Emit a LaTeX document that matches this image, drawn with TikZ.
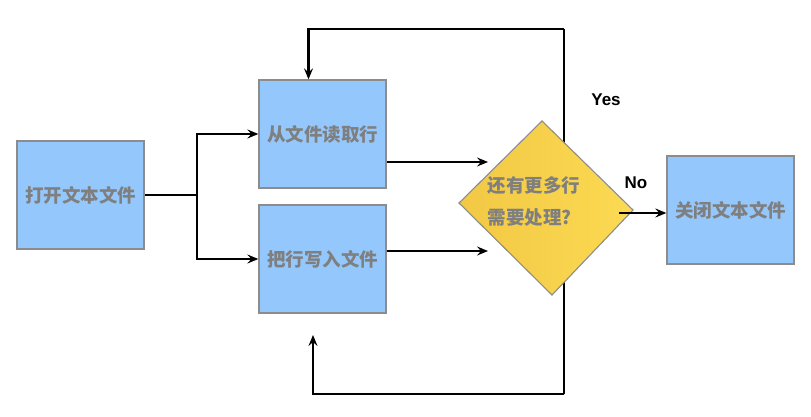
\documentclass[tikz,border=0pt]{standalone}
\usepackage{fontspec}
\setmainfont{Liberation Sans}
\newfontfamily\cjk{Noto Sans CJK SC}
\usetikzlibrary{arrows.meta,calc}
\definecolor{boxblue}{HTML}{94C8FC}
\definecolor{boxline}{HTML}{8C8C8C}
\definecolor{txtgray}{HTML}{7F7F7F}
\definecolor{yelA}{HTML}{F2C845}
\definecolor{yelB}{HTML}{FCDA52}
\tikzset{
  boxnode/.style={draw=boxline, line width=1.3pt, fill=boxblue, minimum width=127pt, minimum height=108pt, inner sep=0pt,
    font=\cjk\bfseries\fontsize{18.5}{22}\selectfont, text=txtgray},
  conn/.style={line width=2.7pt, -{Stealth[length=11pt,width=9pt,inset=4pt]}},
  plain/.style={line width=2.7pt},
  lbl/.style={font=\bfseries\fontsize{17}{20}\selectfont, text=black},
}
\begin{document}
\begin{tikzpicture}[x=1pt,y=-1pt]
\useasboundingbox (0,0) rectangle (811,417);
% loop line behind the diamond
\coordinate (ytop) at (564,29);
\coordinate (ybot) at (564,394);
\draw[plain] (ytop) -- (ybot);
% boxes
\node[boxnode] (open) at (80.5,195) {打开文本文件};
\node[boxnode] (read) at (322.5,134) {从文件读取行};
\node[boxnode] (write) at (322.5,259) {把行写入文件};
\node[boxnode] (close) at (730.5,210) {关闭文本文件};
% diamond
\coordinate (dt) at (542,121);
\coordinate (dr) at (633,210);
\coordinate (db) at (552,295);
\coordinate (dl) at (459,203);
\shade[left color=yelA, right color=yelB, draw=boxline, line width=1.1pt] (dt) -- (dr) -- (db) -- (dl) -- cycle;
\node[font=\cjk\bfseries\fontsize{18.5}{32}\selectfont, text=txtgray, align=left, anchor=west] (dtext) at (484,201) {还有更多行\\需要处理?};
% connectors
\coordinate (jn) at (197,195);
\draw[plain] (open.east) -- (jn);
\draw[conn] (jn) |- (read.west);
\draw[conn] (jn) |- (write.west);
\coordinate (d1) at (488,162);
\coordinate (d2) at (488,251);
\draw[conn] (read.east |- d1) -- (d1);
\draw[conn] (write.east |- d2) -- (d2);
\draw[conn] (ytop) -| ([xshift=-14pt]read.north);
\coordinate (wb) at (313,335);
\draw[conn] (ybot) -| (wb);
\coordinate (nost) at (619,213);
\draw[conn] (nost) -- (close.west |- nost);
% labels
\node[lbl] (yes) at (606,100) {Yes};
\node[lbl] (no) at (636,183) {No};
\end{tikzpicture}
\end{document}
